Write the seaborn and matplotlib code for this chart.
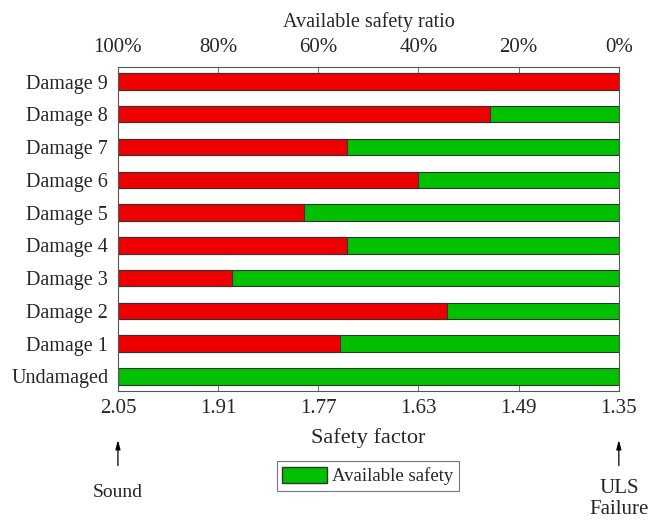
import numpy as np
import pandas as pd
import seaborn as sns
import matplotlib.pyplot as plt
from matplotlib.patches import Patch

# safety factor at the red/green boundary for each case
cases = ['Damage 9', 'Damage 8', 'Damage 7', 'Damage 6', 'Damage 5',
         'Damage 4', 'Damage 3', 'Damage 2', 'Damage 1', 'Undamaged']
safety_factor = [1.35, 1.53, 1.73, 1.63, 1.79, 1.73, 1.89, 1.59, 1.74, 2.05]
sf_sound = 2.05
sf_uls = 1.35
bottom_ticks = [2.05, 1.91, 1.77, 1.63, 1.49, 1.35]
top_labels = ['100%', '80%', '60%', '40%', '20%', '0%']

sns.set_theme(style='white')
plt.rcParams['font.family'] = ['Liberation Serif', 'DejaVu Serif']

# lost safety measured from the sound state
data = pd.DataFrame({'case': cases,
                     'lost': [sf_sound - s for s in safety_factor],
                     'full': [sf_sound - sf_uls] * len(cases)})

fig, ax = plt.subplots(figsize=(6.48, 5.3), dpi=100)
fig.subplots_adjust(left=0.182, right=0.955, top=0.874, bottom=0.262)

sns.barplot(data=data, x='full', y='case', orient='h', color='#00c000',
            saturation=1, width=0.5, edgecolor='#333333', linewidth=0.8, ax=ax)
sns.barplot(data=data, x='lost', y='case', orient='h', color='#ee0000',
            saturation=1, width=0.5, edgecolor='#333333', linewidth=0.8, ax=ax)

span = sf_sound - sf_uls
ax.set_xlim(0, span)
ax.set_ylim(9.45, -0.45)
ax.set_xticks([sf_sound - t for t in bottom_ticks])
ax.set_xticklabels([f'{t:.2f}' for t in bottom_ticks], fontsize=15)
ax.set_xlabel('Safety factor', fontsize=16, labelpad=7)
ax.set_ylabel('')
ax.tick_params(axis='y', labelsize=14.5, length=0, pad=7)
ax.tick_params(axis='x', direction='in', length=4, width=0.6, pad=6, color='#555555')
for s in ax.spines.values():
    s.set_color('#555555')
    s.set_linewidth(0.8)

top = ax.twiny()
top.set_xlim(ax.get_xlim())
top.set_xticks(ax.get_xticks())
top.set_xticklabels(top_labels, fontsize=15)
top.set_xlabel('Available safety ratio', fontsize=14.5, labelpad=8)
top.tick_params(axis='x', direction='in', length=4, width=0.6, pad=7, color='#555555')
for s in top.spines.values():
    s.set_visible(False)

arrow = dict(arrowstyle='-|>,head_width=0.12,head_length=0.45', color='black', lw=0.9)
ax.annotate('', xy=(0, -0.142), xytext=(0, -0.238), xycoords='axes fraction',
            arrowprops=arrow)
ax.annotate('', xy=(1, -0.142), xytext=(1, -0.238), xycoords='axes fraction',
            arrowprops=arrow)
ax.text(0, -0.312, 'Sound', transform=ax.transAxes, ha='center', va='center', fontsize=14)
ax.text(1, -0.333, 'ULS\nFailure', transform=ax.transAxes, ha='center', va='center',
        fontsize=15, linespacing=1.15)

leg = ax.legend(handles=[Patch(facecolor='#00c000', edgecolor='#333333', label='Available safety')],
                loc='center', bbox_to_anchor=(0.499, -0.262), frameon=True, fancybox=False,
                fontsize=13.5, handlelength=2.4, handleheight=0.9, handletextpad=0.25,
                borderpad=0.3, borderaxespad=0)
leg.get_frame().set_edgecolor('#555555')
leg.get_frame().set_linewidth(0.8)

fig.savefig('out.png', dpi=100)
